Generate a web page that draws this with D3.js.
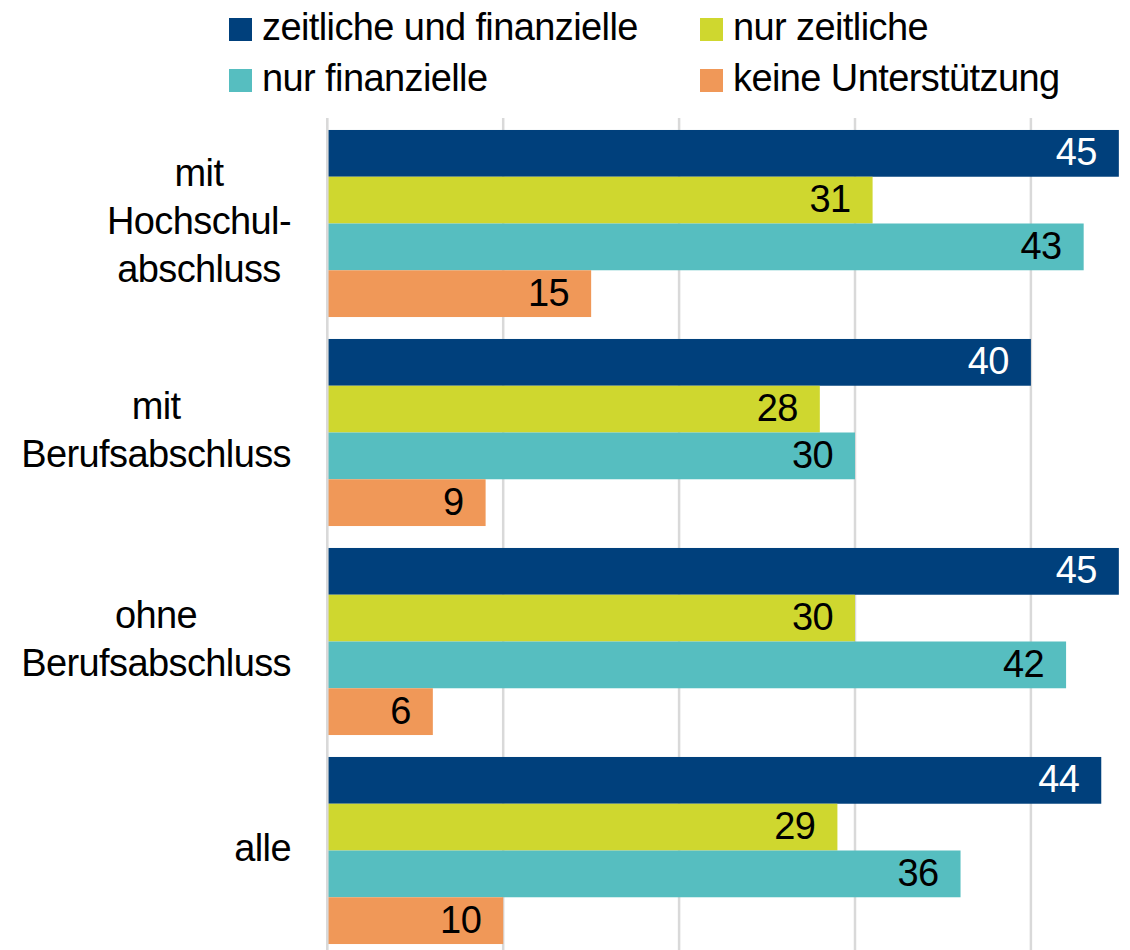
<!DOCTYPE html>
<html>
<head>
<meta charset="utf-8">
<script src="https://cdn.jsdelivr.net/npm/d3@7"></script>
<style>
  html, body { margin: 0; padding: 0; background: #fff; }
  svg { display: block; }
  text { font-family: "Liberation Sans", Arial, sans-serif; font-size: 38px; letter-spacing: -0.6px; fill: #000; }
</style>
</head>
<body>
<svg id="chart" width="1130" height="950"></svg>
<script>
// data
const categories = ['hochschul', 'beruf', 'ohne', 'alle'];
const categoryLines = [
  ['mit', 'Hochschul-', 'abschluss'],
  ['mit', 'Berufsabschluss'],
  ['ohne', 'Berufsabschluss'],
  ['alle']
];
const seriesNames = ['zeitliche und finanzielle', 'nur zeitliche', 'nur finanzielle', 'keine Unterstützung'];
const seriesColors = ['#00407c', '#cfd72f', '#56bec0', '#f09858'];
const labelColors = ['#fff', '#000', '#000', '#000'];
const valuesBoth = [45, 40, 45, 44];
const valuesTime = [31, 28, 30, 29];
const valuesMoney = [43, 30, 42, 36];
const valuesNone = [15, 9, 6, 10];
const gridTicks = [10, 20, 30, 40];

const seriesValues = [valuesBoth, valuesTime, valuesMoney, valuesNone];

const svg = d3.select('#chart');

// scales
const x = d3.scaleLinear().domain([0, 50]).range([327.3, 327.3 + 50 * 17.59]);
const y = d3.scaleBand().domain(categories).range([119, 955]).paddingInner(0.105).paddingOuter(0.0525);
const ySub = d3.scaleBand().domain(d3.range(seriesNames.length)).range([0, y.bandwidth()]);

// grid
svg.append('g').selectAll('line')
  .data(gridTicks)
  .join('line')
  .attr('x1', d => x(d)).attr('x2', d => x(d))
  .attr('y1', 118).attr('y2', 950)
  .attr('stroke', '#d9d9d9').attr('stroke-width', 2.5);

// bars
const groups = svg.append('g').selectAll('g')
  .data(categories)
  .join('g')
  .attr('transform', d => `translate(0,${y(d)})`);

groups.each(function (cat, ci) {
  const g = d3.select(this);
  const rows = seriesValues.map((vals, si) => ({ si, v: vals[ci] }));
  g.selectAll('rect')
    .data(rows)
    .join('rect')
    .attr('x', x(0))
    .attr('y', d => ySub(d.si))
    .attr('width', d => x(d.v) - x(0))
    .attr('height', ySub.bandwidth())
    .attr('fill', d => seriesColors[d.si]);
  g.selectAll('text')
    .data(rows)
    .join('text')
    .attr('x', d => x(d.v) - 22)
    .attr('y', d => ySub(d.si) + ySub.bandwidth() / 2 + 12)
    .attr('text-anchor', 'end')
    .style('fill', d => labelColors[d.si])
    .text(d => d.v);
});

// axis line at 0
svg.append('line')
  .attr('x1', x(0)).attr('x2', x(0))
  .attr('y1', 118).attr('y2', 950)
  .attr('stroke', '#d9d9d9').attr('stroke-width', 2.6);

// category labels: block right-aligned, lines centred within block
const lineH = 48;
categories.forEach((cat, ci) => {
  const lines = categoryLines[ci];
  const cy = y(cat) + y.bandwidth() / 2;
  const g = svg.append('g');
  const texts = g.selectAll('text')
    .data(lines)
    .join('text')
    .attr('y', (d, i) => cy + (i - (lines.length - 1) / 2) * lineH + 10.5)
    .attr('text-anchor', 'middle')
    .text(d => d);
  let maxW = 0;
  texts.each(function () { maxW = Math.max(maxW, this.getComputedTextLength()); });
  texts.attr('x', 291 - maxW / 2);
});

// legend
const legendX = [229, 700];
const legendY = [18, 69];
const legend = svg.append('g').selectAll('g')
  .data(seriesNames)
  .join('g')
  .attr('transform', (d, i) => `translate(${legendX[i % 2]},${legendY[Math.floor(i / 2)]})`);
legend.append('rect')
  .attr('width', 23).attr('height', 23)
  .attr('fill', (d, i) => seriesColors[i]);
legend.append('text')
  .attr('x', 33).attr('y', 21.5)
  .text(d => d);
</script>
</body>
</html>
